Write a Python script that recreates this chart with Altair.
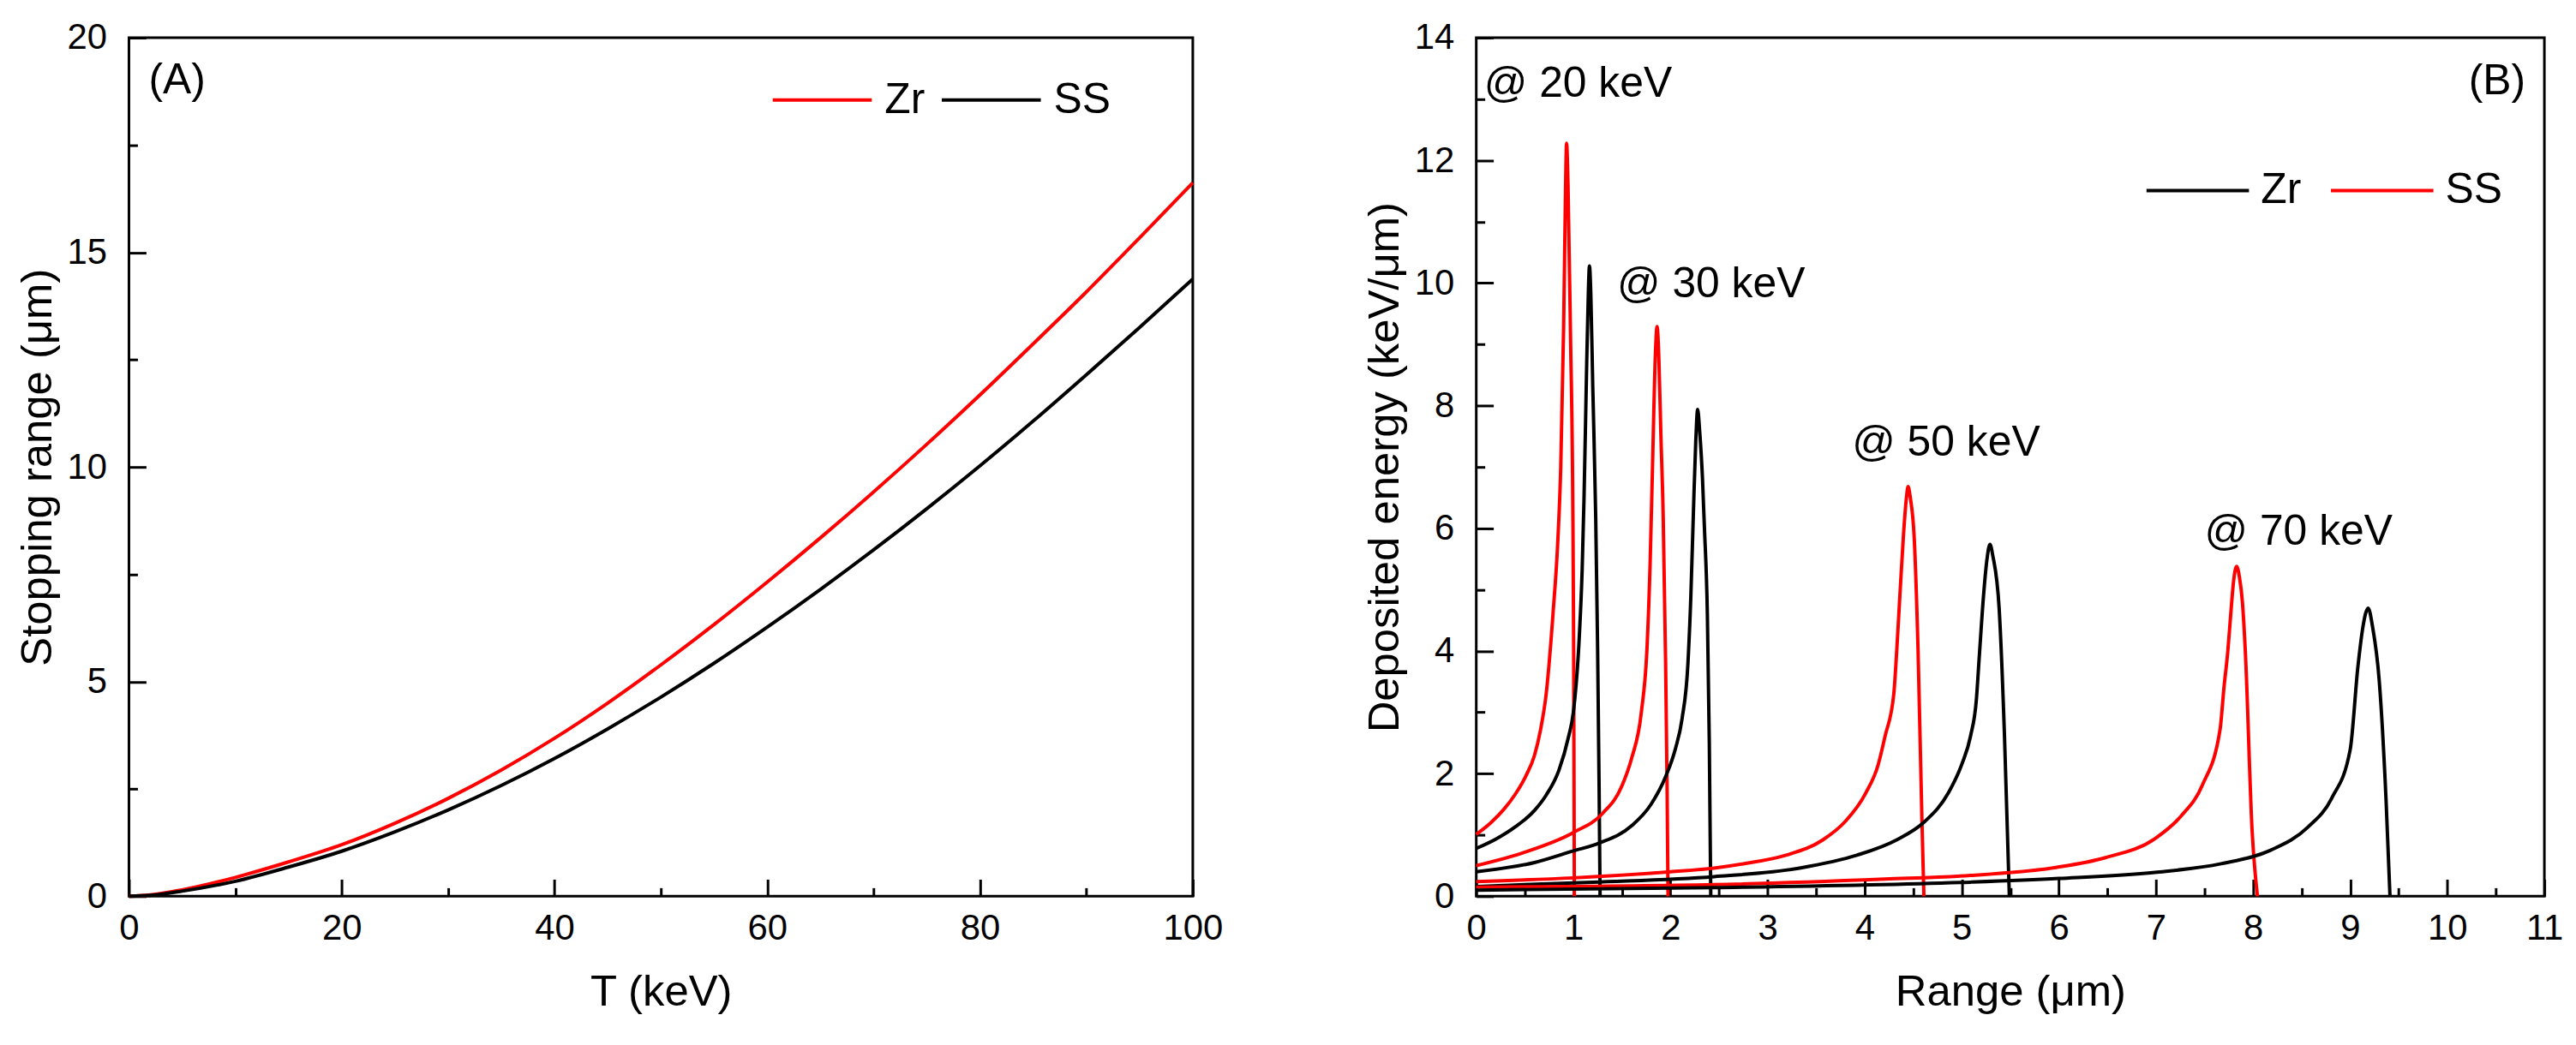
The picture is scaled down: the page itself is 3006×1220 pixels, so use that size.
import altair as alt
import pandas as pd

FONT = "Liberation Sans"

# ---------------- Panel A : stopping range vs T ----------------
T_KEV = [0, 2, 5, 10, 15, 20, 25, 30, 35, 40, 45, 50, 55, 60, 65, 70, 75, 80, 85, 90, 95, 100]
RANGE_ZR = [0, 0.03, 0.15, 0.44, 0.80, 1.20, 1.70, 2.28, 2.94, 3.68, 4.50, 5.39, 6.33, 7.32,
            8.35, 9.42, 10.53, 11.68, 12.87, 14.08, 15.34, 16.62]
RANGE_SS = [0, 0.02, 0.12, 0.35, 0.68, 1.05, 1.50, 2.01, 2.58, 3.21, 3.90, 4.64, 5.43, 6.27,
            7.15, 8.07, 9.03, 10.03, 11.07, 12.15, 13.25, 14.38]

A_X_MAJOR = [0, 20, 40, 60, 80, 100]
A_X_MINOR = [10, 30, 50, 70, 90]
A_Y_MAJOR = [0, 5, 10, 15, 20]
A_Y_MINOR = [2.5, 7.5, 12.5, 17.5]
A_LABELS = ["(A)"]
A_LABEL_X = [1.85]
A_LABEL_Y = [18.71]

# ---------------- Panel B : deposited energy vs range ----------------
SS20_X = [0, 0.15, 0.28, 0.40, 0.51, 0.60, 0.66, 0.72, 0.79, 0.84, 0.87, 0.90, 0.92, 0.93,
          0.945, 0.97, 0.995, 1.003, 1.01]
SS20_Y = [1.01, 1.20, 1.41, 1.66, 1.96, 2.30, 2.70, 3.30, 4.60, 5.80, 7.00, 9.30, 11.60, 12.28,
          11.60, 9.20, 6.20, 4.00, 0]
ZR20_X = [0, 0.20, 0.40, 0.60, 0.72, 0.85, 0.95, 1.00, 1.06, 1.09, 1.11, 1.135, 1.155, 1.166,
          1.18, 1.20, 1.23, 1.25, 1.265, 1.275]
ZR20_Y = [0.78, 0.93, 1.13, 1.40, 1.65, 2.05, 2.60, 3.00, 4.20, 5.30, 6.50, 8.50, 9.90, 10.28,
          9.80, 8.30, 6.20, 4.00, 1.80, 0]
SS30_X = [0, 0.5, 1.0, 1.3, 1.5, 1.6, 1.7, 1.76, 1.79, 1.815, 1.845, 1.862, 1.88, 1.90, 1.925,
          1.95, 1.965, 1.975]
SS30_Y = [0.50, 0.72, 1.04, 1.35, 1.80, 2.25, 3.00, 4.10, 5.40, 7.00, 8.85, 9.29, 8.80, 7.60,
          6.20, 3.80, 1.80, 0]
ZR30_X = [0, 0.6, 1.0, 1.27, 1.6, 1.8, 1.95, 2.05, 2.12, 2.18, 2.21, 2.235, 2.26, 2.28, 2.30,
          2.33, 2.35, 2.38, 2.40, 2.415]
ZR30_Y = [0.40, 0.55, 0.74, 0.87, 1.15, 1.50, 1.95, 2.40, 2.90, 3.80, 4.90, 6.20, 7.40, 7.94,
          7.60, 6.80, 6.00, 4.60, 2.50, 0]
SS50_X = [0, 1.0, 2.0, 2.45, 2.75, 3.19, 3.57, 3.80, 4.01, 4.14, 4.21, 4.30, 4.33, 4.36, 4.40,
          4.43, 4.447, 4.47, 4.51, 4.55, 4.59, 4.61]
SS50_Y = [0.24, 0.30, 0.40, 0.46, 0.53, 0.67, 0.92, 1.22, 1.68, 2.15, 2.61, 3.30, 4.00, 4.83,
          5.90, 6.50, 6.68, 6.50, 5.85, 4.00, 1.22, 0]
ZR50_X = [0, 1.2, 2.45, 3.33, 3.92, 4.33, 4.62, 4.86, 5.00, 5.09, 5.15, 5.18, 5.225, 5.26, 5.29,
          5.32, 5.385, 5.44, 5.49]
ZR50_Y = [0.16, 0.23, 0.32, 0.46, 0.67, 0.92, 1.22, 1.68, 2.15, 2.61, 3.20, 3.90, 4.92, 5.50,
          5.74, 5.55, 4.69, 2.61, 0]
SS70_X = [0, 2.45, 4.21, 5.09, 5.97, 6.48, 6.99, 7.26, 7.48, 7.66, 7.70, 7.74, 7.77, 7.80, 7.83,
          7.86, 7.89, 7.92, 7.99, 8.045]
SS70_Y = [0.15, 0.19, 0.28, 0.34, 0.47, 0.63, 0.94, 1.31, 1.82, 2.72, 3.40, 4.00, 4.60, 5.15,
          5.38, 5.20, 4.80, 4.00, 1.07, 0]
ZR70_X = [0, 2.45, 5.09, 6.0, 6.99, 7.67, 8.18, 8.56, 8.81, 9.0, 9.08, 9.13, 9.16, 9.185, 9.23,
          9.30, 9.37, 9.41]
ZR70_Y = [0.10, 0.14, 0.23, 0.29, 0.39, 0.53, 0.75, 1.12, 1.60, 2.39, 3.75, 4.38, 4.62, 4.70,
          4.40, 3.50, 1.55, 0]

B_X_MAJOR = list(range(0, 12))
B_X_MINOR = [0.5, 1.5, 2.5, 3.5, 4.5, 5.5, 6.5, 7.5, 8.5, 9.5, 10.5]
B_Y_MAJOR = [0, 2, 4, 6, 8, 10, 12, 14]
B_Y_MINOR = [1, 3, 5, 7, 9, 11, 13]
B_LABELS = ["@ 20 keV", "@ 30 keV", "@ 50 keV", "@ 70 keV", "(B)"]
B_LABEL_X = [0.08, 1.45, 3.87, 7.50, 10.22]
B_LABEL_Y = [13.04, 9.77, 7.18, 5.73, 13.08]

# ---------------- tables ----------------
df_a = pd.concat([
    pd.DataFrame({"T": T_KEV, "R": RANGE_ZR, "material": "Zr"}),
    pd.DataFrame({"T": T_KEV, "R": RANGE_SS, "material": "SS"}),
])
df_a_lab = pd.DataFrame({"x": A_LABEL_X, "y": A_LABEL_Y, "label": A_LABELS})

curves = [
    ("SS", "20", SS20_X, SS20_Y), ("Zr", "20", ZR20_X, ZR20_Y),
    ("SS", "30", SS30_X, SS30_Y), ("Zr", "30", ZR30_X, ZR30_Y),
    ("SS", "50", SS50_X, SS50_Y), ("Zr", "50", ZR50_X, ZR50_Y),
    ("SS", "70", SS70_X, SS70_Y), ("Zr", "70", ZR70_X, ZR70_Y),
]
df_b = pd.concat([
    pd.DataFrame({"x": xs, "y": ys, "material": m, "series": m + e})
    for m, e, xs, ys in curves
])
df_b_lab = pd.DataFrame({"x": B_LABEL_X, "y": B_LABEL_Y, "label": B_LABELS})


def major_axis(values, orient, title, label_pad, title_pad):
    return alt.Axis(values=values, orient=orient, title=title, format="d",
                    tickSize=20, offset=-20, tickWidth=3, tickColor="black",
                    domain=False, grid=False, labelFlush=False,
                    labelFont=FONT, labelFontSize=42, labelColor="black",
                    labelPadding=label_pad,
                    titleFont=FONT, titleFontSize=51, titleFontWeight="normal",
                    titleColor="black", titlePadding=title_pad)


def minor_axis(values, orient):
    return alt.Axis(values=values, orient=orient, title=None, labels=False,
                    tickSize=10, offset=-10, tickWidth=3, tickColor="black",
                    domain=False, grid=False)


def panel(df, xf, yf, xdom, ydom, xmaj, xmin, ymaj, ymin, xtitle, ytitle,
          cdomain, crange, detail, legend, labels, w, h):
    xs = alt.Scale(domain=xdom, nice=False, zero=False)
    ys = alt.Scale(domain=ydom, nice=False, zero=False)
    enc = dict(
        x=alt.X(f"{xf}:Q", scale=xs, axis=major_axis(xmaj, "bottom", xtitle, 17, 30)),
        y=alt.Y(f"{yf}:Q", scale=ys, axis=major_axis(ymaj, "left", ytitle, 26, 8)),
        color=alt.Color("material:N", scale=alt.Scale(domain=cdomain, range=crange),
                        legend=legend),
    )
    if detail:
        enc["detail"] = alt.Detail(f"{detail}:N")
    lines = alt.Chart(df).mark_line(strokeWidth=4, interpolate="monotone").encode(**enc)
    minor = alt.Chart(df).mark_line(strokeOpacity=0).encode(
        x=alt.X(f"{xf}:Q", scale=xs, axis=minor_axis(xmin, "bottom")),
        y=alt.Y(f"{yf}:Q", scale=ys, axis=minor_axis(ymin, "left")),
        detail=alt.Detail(f"{detail or 'material'}:N"),
    )
    text = alt.Chart(labels).mark_text(align="left", baseline="alphabetic", font=FONT,
                                       fontSize=50, color="black").encode(
        x=alt.X("x:Q", scale=xs, axis=None),
        y=alt.Y("y:Q", scale=ys, axis=None),
        text="label:N",
    )
    return alt.layer(lines, minor, text).resolve_axis(
        x="independent", y="independent").properties(width=w, height=h)


legend_a = alt.Legend(orient="none", legendX=752, legendY=13, direction="horizontal",
                      title=None, symbolType="stroke", symbolSize=116 * 116,
                      symbolStrokeWidth=4, labelFont=FONT, labelFontSize=50,
                      labelColor="black", labelOffset=13, columnPadding=11, padding=0)
legend_b = alt.Legend(orient="none", legendX=783, legendY=117, direction="horizontal",
                      title=None, symbolType="stroke", symbolSize=120 * 120,
                      symbolStrokeWidth=4, labelFont=FONT, labelFontSize=50,
                      labelColor="black", labelOffset=12, columnPadding=26, padding=0)

chart_a = panel(df_a, "T", "R", [0, 100], [0, 20], A_X_MAJOR, A_X_MINOR, A_Y_MAJOR, A_Y_MINOR,
                "T (keV)", "Stopping range (μm)", ["Zr", "SS"], ["#ff0000", "#000000"],
                None, legend_a, df_a_lab, 1246, 1006)
chart_b = panel(df_b, "x", "y", [0, 11], [0, 14], B_X_MAJOR, B_X_MINOR, B_Y_MAJOR, B_Y_MINOR,
                "Range (μm)", "Deposited energy (keV/μm)", ["Zr", "SS"], ["#000000", "#ff0000"],
                "series", legend_b, df_b_lab, 1251, 1006)

chart = alt.hconcat(chart_a, chart_b, spacing=160).resolve_scale(
    color="independent").properties(
    padding={"left": 8, "top": 11, "right": 5, "bottom": 5},
    background="white",
).configure_view(stroke="black", strokeWidth=3)

chart.save("out.html", embed_options={"renderer": "svg", "actions": False})
